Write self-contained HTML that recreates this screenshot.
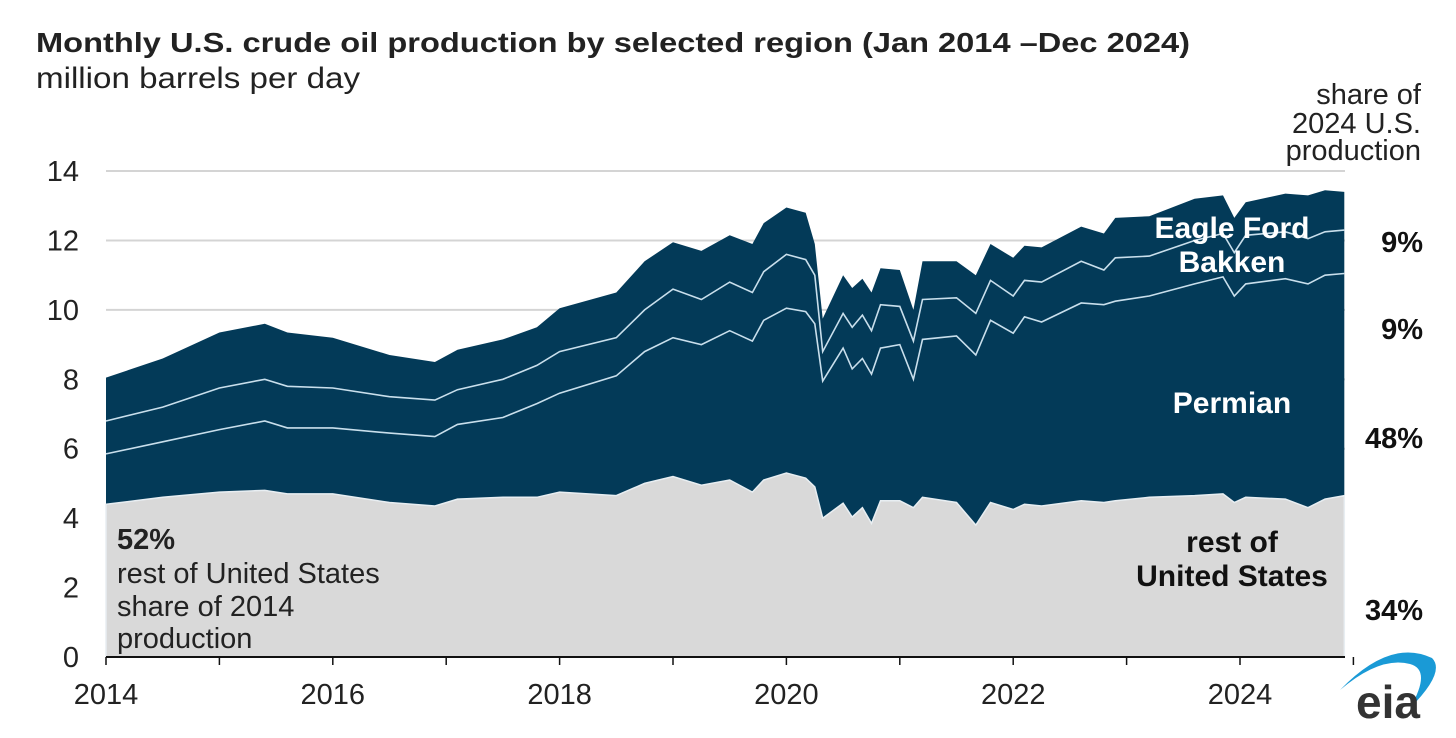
<!DOCTYPE html>
<html><head><meta charset="utf-8"><style>
html,body{margin:0;padding:0;background:#fff;}
svg{display:block;font-family:"Liberation Sans",Arial,sans-serif;}
</style></head><body>
<svg id="chart" width="1456" height="738" viewBox="0 0 1456 738">
<text x="36" y="52" font-size="28" font-weight="bold" fill="#222" textLength="1154" lengthAdjust="spacingAndGlyphs">Monthly U.S. crude oil production by selected region (Jan 2014 –Dec 2024)</text>
<text x="36" y="88" font-size="30" fill="#222" textLength="324" lengthAdjust="spacingAndGlyphs">million barrels per day</text>
<g font-size="29" fill="#222" text-anchor="end">
<text x="1421" y="104">share of</text><text x="1421" y="133">2024 U.S.</text><text x="1421" y="160">production</text></g>
<g id="grid"></g>
<g id="areas"></g>
<g id="axes"></g>
<g font-size="30" font-weight="bold" fill="#fff" text-anchor="middle">
<text x="1232" y="238">Eagle Ford</text>
<text x="1232" y="272">Bakken</text>
<text x="1232" y="413">Permian</text></g>
<g font-size="30" font-weight="bold" fill="#111" text-anchor="middle">
<text x="1232" y="552">rest of</text><text x="1232" y="586">United States</text></g>
<g font-size="29" font-weight="bold" fill="#111" text-anchor="end">
<text x="1423" y="252">9%</text>
<text x="1423" y="339">9%</text>
<text x="1423" y="448">48%</text>
<text x="1423" y="620">34%</text></g>
<g font-size="29" fill="#222">
<text x="117" y="549" font-weight="bold">52%</text>
<text x="117" y="583">rest of United States</text>
<text x="117" y="616">share of 2014</text>
<text x="117" y="648">production</text></g>
<g>
<path d="M1340,690 Q1390,638 1432,658 Q1446,672 1410,708 Q1432,670 1410,664 Q1380,656 1340,690 Z" fill="#1a9ad6"/>
<text x="1356" y="718" font-size="46" fill="#333" font-weight="bold">eia</text></g>
</svg>
<script>
const dates=[2014.0,2014.5,2015.0,2015.4,2015.6,2016.0,2016.5,2016.9,2017.1,2017.5,2017.8,2018.0,2018.5,2018.75,2019.0,2019.25,2019.5,2019.7,2019.8,2020.0,2020.17,2020.25,2020.32,2020.5,2020.58,2020.67,2020.75,2020.83,2021.0,2021.12,2021.2,2021.5,2021.67,2021.8,2022.0,2022.1,2022.25,2022.6,2022.8,2022.9,2023.2,2023.6,2023.85,2023.95,2024.05,2024.4,2024.6,2024.75,2024.92];
const restOfUS=[4.4,4.6,4.75,4.8,4.7,4.7,4.45,4.35,4.55,4.6,4.6,4.75,4.65,5.0,5.2,4.95,5.1,4.75,5.1,5.3,5.15,4.9,4.0,4.43,4.03,4.3,3.85,4.5,4.5,4.3,4.6,4.45,3.8,4.45,4.25,4.4,4.35,4.5,4.45,4.5,4.6,4.65,4.7,4.45,4.6,4.55,4.3,4.55,4.65];
const permian=[1.45,1.6,1.8,2.0,1.9,1.9,2.0,2.0,2.15,2.3,2.7,2.85,3.45,3.8,4.0,4.05,4.3,4.35,4.6,4.75,4.8,4.7,3.95,4.47,4.27,4.3,4.3,4.4,4.5,3.7,4.55,4.8,4.9,5.25,5.08,5.4,5.3,5.7,5.7,5.75,5.8,6.1,6.25,5.95,6.15,6.35,6.45,6.45,6.4];
const bakken=[0.95,1.0,1.2,1.2,1.2,1.15,1.05,1.05,1.0,1.1,1.1,1.2,1.1,1.2,1.4,1.3,1.4,1.4,1.4,1.55,1.5,1.4,0.85,1.0,1.2,1.25,1.25,1.25,1.1,1.1,1.15,1.1,1.2,1.15,1.07,1.05,1.15,1.2,1.0,1.25,1.15,1.25,1.25,1.25,1.4,1.35,1.3,1.25,1.25];
const eagleFord=[1.25,1.4,1.6,1.6,1.55,1.45,1.2,1.1,1.15,1.15,1.1,1.25,1.3,1.4,1.35,1.4,1.35,1.4,1.4,1.35,1.35,0.9,0.95,1.1,1.13,1.05,1.1,1.05,1.05,0.9,1.1,1.05,1.1,1.05,1.1,1.0,1.0,1.0,1.05,1.15,1.15,1.2,1.1,1.0,0.95,1.1,1.25,1.2,1.1];
const yTicks=[0,2,4,6,8,10,12,14];
const xTickLabels=[2014,2016,2018,2020,2022,2024];

const NS="http://www.w3.org/2000/svg";
const X0=106,PXY=113.4,Y0=657,PXV=34.71;
const xs=d=>X0+(d-2014)*PXY;
const ys=v=>Y0-v*PXV;
function mk(tag,attrs,parent){const e=document.createElementNS(NS,tag);for(const k in attrs)e.setAttribute(k,attrs[k]);parent.appendChild(e);return e;}
const grid=document.getElementById('grid'),areas=document.getElementById('areas'),axes=document.getElementById('axes');
yTicks.forEach(v=>{
  if(v>0){const l=mk('line',{x1:106,x2:1345,y1:ys(v),y2:ys(v),stroke:'#d4d4d4','stroke-width':2},grid);
  
  }
  const t=mk('text',{x:79,y:ys(v)+10,'font-size':29,fill:'#222','text-anchor':'end'},axes);
  t.textContent=v;
  
  
});
const cum=[[],[],[],[]];
dates.forEach((d,i)=>{const a=restOfUS[i],b=a+permian[i],c=b+bakken[i],e=c+eagleFord[i];cum[0].push(a);cum[1].push(b);cum[2].push(c);cum[3].push(e);});
function areaPath(top){let p='M'+xs(dates[0])+','+Y0;dates.forEach((d,i)=>{p+=' L'+xs(d).toFixed(1)+','+ys(top[i]).toFixed(1);});p+=' L'+xs(dates[dates.length-1])+','+Y0+' Z';return p;}
function linePath(top){return dates.map((d,i)=>(i?'L':'M')+xs(d).toFixed(1)+','+ys(top[i]).toFixed(1)).join(' ');}
const dark=mk('path',{d:areaPath(cum[3]),fill:'#033a58'},areas);


const gray=mk('path',{d:areaPath(cum[0]),fill:'#d9d9d9',stroke:'#e8eef2','stroke-width':1.5},areas);


const l1=mk('path',{d:linePath(cum[1]),fill:'none',stroke:'#c9dfec','stroke-width':1.6},areas);


const l2=mk('path',{d:linePath(cum[2]),fill:'none',stroke:'#c9dfec','stroke-width':1.6},areas);


const ax=mk('line',{x1:106,x2:1345,y1:Y0,y2:Y0,stroke:'#111','stroke-width':2},axes);


for(let yr=2014;yr<=2025;yr++){
  const tk=mk('line',{x1:xs(yr),x2:xs(yr),y1:Y0,y2:Y0+8,stroke:'#111','stroke-width':1.5},axes);
  
  
}
xTickLabels.forEach(yr=>{
  const t=mk('text',{x:xs(yr),y:704,'font-size':29,fill:'#222','text-anchor':'middle'},axes);
  t.textContent=yr;
  
  
});
</script>
</body></html>
